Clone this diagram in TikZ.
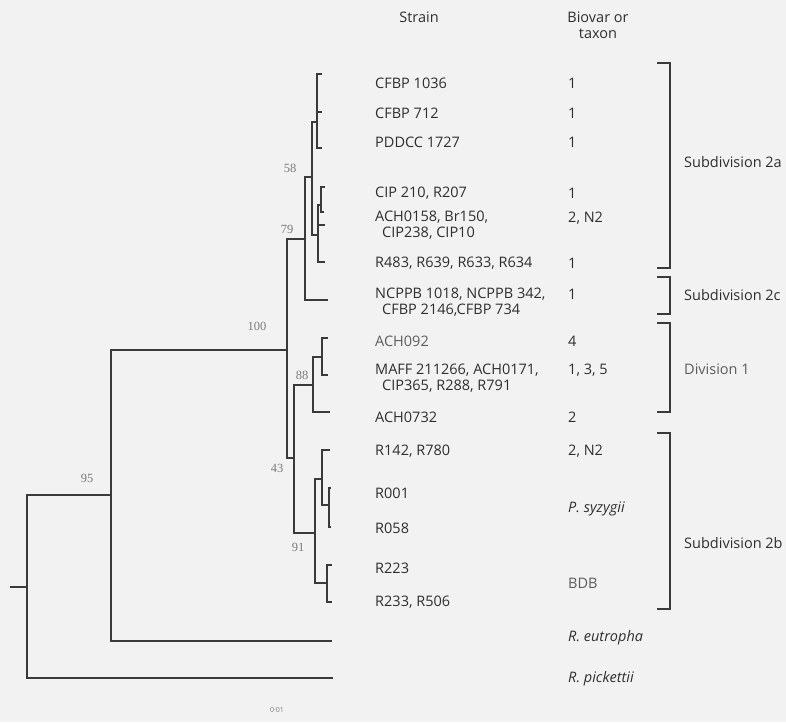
\documentclass[tikz,border=0pt]{standalone}
\usepackage{fontspec}
\setmainfont{Open Sans}
\newfontfamily\bootfont{Liberation Serif}
\usetikzlibrary{positioning}
\definecolor{TreeInk}{HTML}{3A3A3A}
\definecolor{TextInk}{HTML}{2E2E2E}
\definecolor{BootGrey}{HTML}{7A7A7A}
\definecolor{PaperGrey}{HTML}{F2F2F2}

\begin{document}
\begin{tikzpicture}[
  x=1pt, y=-1pt,
  branch/.style={draw=TreeInk, line width=1.8pt},
  brk/.style={draw=TreeInk, line width=1.4pt},
  strain/.style={anchor=west, inner sep=0pt, align=left, text=TextInk, font=\fontsize{14.5}{16}\selectfont},
  biovar/.style={anchor=west, inner sep=0pt, text=TextInk, font=\fontsize{14.5}{16}\selectfont},
  head/.style={inner sep=0pt, align=center, text=TextInk, font=\fontsize{14.5}{16}\selectfont},
  grp/.style={anchor=west, inner sep=0pt, text=TextInk, font=\fontsize{14.5}{16}\selectfont},
  faded/.style={text=TextInk!78},
  boot/.style={inner sep=0pt, text=BootGrey, font=\bootfont\fontsize{12.5}{12.5}\selectfont}
]
\fill[PaperGrey] (0,0) rectangle (786,722);
\useasboundingbox (0,0) rectangle (786,722);

% tree points
\coordinate (stub) at (10,587);
\coordinate (root) at (27,587);
\coordinate (n95) at (111,495);
\coordinate (eutro) at (332,641);
\coordinate (picket) at (333,678);
\coordinate (n100) at (287,350);
\coordinate (n79) at (305,239);
\coordinate (n58) at (312,177);
\coordinate (cA) at (317,122);
\coordinate (t1036) at (322,74);
\coordinate (t712) at (322,112);
\coordinate (t1727) at (322,148);
\coordinate (cB) at (318,235);
\coordinate (cB1) at (321,205);
\coordinate (t210) at (325,187);
\coordinate (tCIP) at (324,212);
\coordinate (tBr) at (325,225);
\coordinate (t483) at (325,262);
\coordinate (tNC) at (328,300);
\coordinate (n43) at (294,458);
\coordinate (n88) at (313,385);
\coordinate (cD) at (322,357);
\coordinate (t092) at (328,338);
\coordinate (tMAFF) at (328,375);
\coordinate (t0732) at (330,412);
\coordinate (n91) at (315,533);
\coordinate (cE) at (322,479);
\coordinate (t142) at (330,450);
\coordinate (cE1) at (329,505);
\coordinate (t001) at (331,488);
\coordinate (t058) at (331,527);
\coordinate (cF) at (327,583);
\coordinate (t223) at (332,565);
\coordinate (t233) at (332,602);

% branches
\draw[branch] (stub) -- (root);
\draw[branch] (root) |- (n95);
\draw[branch] (root) |- (picket);
\draw[branch] (n95) |- (n100);
\draw[branch] (n95) |- (eutro);
\draw[branch] (n100) |- (n79);
\draw[branch] (n100) |- (n43);
\draw[branch] (n79) |- (n58);
\draw[branch] (n79) |- (tNC);
\draw[branch] (n58) |- (cA);
\draw[branch] (n58) |- (cB);
\draw[branch] (cA) |- (t1036);
\draw[branch] (cA) |- (t712);
\draw[branch] (cA) |- (t1727);
\draw[branch] (cB) |- (cB1);
\draw[branch] (cB1) |- (t210);
\draw[branch] (cB1) |- (tCIP);
\draw[branch] (cB) |- (tBr);
\draw[branch] (cB) |- (t483);
\draw[branch] (n43) |- (n88);
\draw[branch] (n43) |- (n91);
\draw[branch] (n88) |- (cD);
\draw[branch] (n88) |- (t0732);
\draw[branch] (cD) |- (t092);
\draw[branch] (cD) |- (tMAFF);
\draw[branch] (n91) |- (cE);
\draw[branch] (n91) |- (cF);
\draw[branch] (cE) |- (t142);
\draw[branch] (cE) |- (cE1);
\draw[branch] (cE1) |- (t001);
\draw[branch] (cE1) |- (t058);
\draw[branch] (cF) |- (t223);
\draw[branch] (cF) |- (t233);

% bootstrap values
\node[boot] (b95) at (87,478) {95};
\node[boot] (b100) at (257,326) {100};
\node[boot] (b58) at (290,168) {58};
\node[boot] (b79) at (287,229) {79};
\node[boot] (b88) at (302,375) {88};
\node[boot] (b43) at (277,468) {43};
\node[boot] (b91) at (298,547) {91};

% headers
\node[head] (hstrain) at (419,17) {Strain};
\node[head] (hbiovar) at (598,25) {Biovar or\\taxon};

% strains
\node[strain] (s1036) at (375,83) {CFBP 1036};
\node[strain] (s712) at (375,113) {CFBP 712};
\node[strain] (s1727) at (375,142) {PDDCC 1727};
\node[strain] (s210) at (375,193) {CIP 210, R207};
\node[strain] (sACH) at (375,225.5) {ACH0158, Br150,\\\hspace*{7pt}CIP238, CIP10};
\node[strain] (s483) at (375,263) {R483, R639, R633, R634};
\node[strain] (sNC) at (375,302) {NCPPB 1018, NCPPB 342,\\\hspace*{7pt}CFBP 2146,CFBP 734};
\node[strain, faded] (s092) at (375,341) {ACH092};
\node[strain] (sMAFF) at (375,378) {MAFF 211266, ACH0171,\\\hspace*{7pt}CIP365, R288, R791};
\node[strain] (s0732) at (375,417) {ACH0732};
\node[strain] (s142) at (375,451) {R142, R780};
\node[strain] (s001) at (375,493) {R001};
\node[strain] (s058) at (375,528) {R058};
\node[strain] (s223) at (375,568) {R223};
\node[strain] (s233) at (375,602) {R233, R506};

% biovar or taxon
\node[biovar] (v1036) at (568,83) {1};
\node[biovar] (v712) at (568,113) {1};
\node[biovar] (v1727) at (568,142) {1};
\node[biovar] (v210) at (568,193) {1};
\node[biovar] (vACH) at (568,218) {2, N2};
\node[biovar] (v483) at (568,263) {1};
\node[biovar] (vNC) at (568,294) {1};
\node[biovar] (v092) at (568,341) {4};
\node[biovar] (vMAFF) at (568,370) {1, 3, 5};
\node[biovar] (v0732) at (568,417) {2};
\node[biovar] (v142) at (568,451) {2, N2};
\node[biovar] (vsyz) at (568,509) {\itshape P. syzygii};
\node[biovar, faded] (vbdb) at (568,583) {BDB};
\node[biovar] (veutro) at (568,638) {\itshape R. eutropha};
\node[biovar] (vpick) at (568,679) {\itshape R. pickettii};

% groups
\coordinate (g2aT) at (670,63);
\coordinate (g2aB) at (670,268);
\coordinate (g2cT) at (670,277);
\coordinate (g2cB) at (670,314);
\coordinate (g1T) at (670,323);
\coordinate (g1B) at (670,412);
\coordinate (g2bT) at (670,433);
\coordinate (g2bB) at (670,609);
\draw[brk] ([xshift=-13pt]g2aT) -- (g2aT) -- (g2aB) -- ([xshift=-13pt]g2aB);
\draw[brk] ([xshift=-13pt]g2cT) -- (g2cT) -- (g2cB) -- ([xshift=-13pt]g2cB);
\draw[brk] ([xshift=-13pt]g1T) -- (g1T) -- (g1B) -- ([xshift=-13pt]g1B);
\draw[brk] ([xshift=-13pt]g2bT) -- (g2bT) -- (g2bB) -- ([xshift=-13pt]g2bB);
\node[grp] (l2a) at (684,162) {Subdivision 2a};
\node[grp] (l2c) at (684,295) {Subdivision 2c};
\node[grp, faded] (l1) at (684,369) {Division 1};
\node[grp] (l2b) at (684,543) {Subdivision 2b};

% scale
\node[boot, font=\fontsize{7}{7}\selectfont] (scale) at (277,710) {0·01};
\end{tikzpicture}
\end{document}
